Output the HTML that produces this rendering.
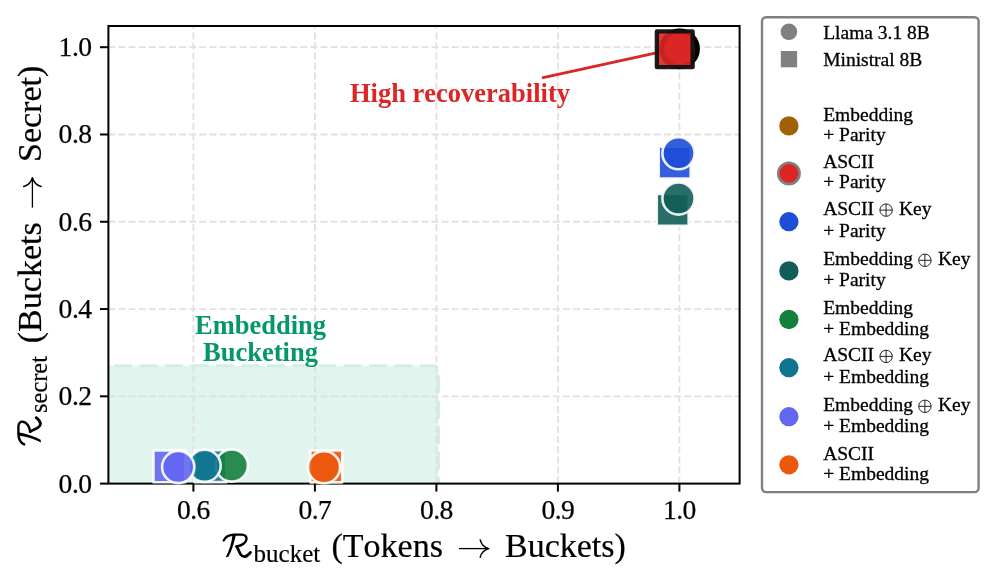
<!DOCTYPE html><html><head><meta charset="utf-8"><style>html,body{margin:0;padding:0;background:#fff;width:996px;height:583px;overflow:hidden;}svg{display:block;will-change:transform;font-family:"Liberation Serif",serif;font-kerning:none;}</style></head><body><svg width="996" height="583" viewBox="0 0 996 583">
<defs><clipPath id="ax"><rect x="108.4" y="26.0" width="631.2" height="457.6"/></clipPath></defs>
<rect width="996" height="583" fill="#fff"/>
<g clip-path="url(#ax)">
<rect x="60" y="365.8" width="378.5" height="160" rx="5" ry="5" fill="#E0F5EE" stroke="#D3EEE4" stroke-width="3" stroke-dasharray="18 7.5" stroke-dashoffset="2"/>
</g>
<g stroke="#dedede" stroke-width="1.8" stroke-dasharray="7.0 3.1" opacity="0.9"><line x1="193.40" y1="483.6" x2="193.40" y2="26.0"/><line x1="314.90" y1="483.6" x2="314.90" y2="26.0"/><line x1="436.40" y1="483.6" x2="436.40" y2="26.0"/><line x1="557.90" y1="483.6" x2="557.90" y2="26.0"/><line x1="679.40" y1="483.6" x2="679.40" y2="26.0"/><line x1="108.4" y1="396.32" x2="739.6" y2="396.32"/><line x1="108.4" y1="309.04" x2="739.6" y2="309.04"/><line x1="108.4" y1="221.76" x2="739.6" y2="221.76"/><line x1="108.4" y1="134.48" x2="739.6" y2="134.48"/><line x1="108.4" y1="47.20" x2="739.6" y2="47.20"/></g>
<text x="460" y="101.6" text-anchor="middle" font-family="Liberation Serif" font-weight="bold" font-size="26.5" fill="#DC2626">High recoverability</text>
<line x1="543.2" y1="77.7" x2="662" y2="51.6" stroke="#DC2626" stroke-width="2.9" stroke-linecap="round"/>
<text text-anchor="middle" font-family="Liberation Serif" font-weight="bold" font-size="26.5" fill="#059669"><tspan x="260.5" y="333.9">Embedding</tspan><tspan x="260.5" y="361.2">Bucketing</tspan></text>
<rect x="108.4" y="26.0" width="631.2" height="457.6" fill="none" stroke="#000" stroke-width="2"/>
<g><rect x="153.45" y="450.35" width="31.9" height="31.9" fill="#6366F1" fill-opacity="0.9" stroke="#fff" stroke-opacity="0.9" stroke-width="2.6" stroke-linejoin="round"/><rect x="194.55" y="450.25" width="31.9" height="31.9" fill="#0E7490" fill-opacity="0.9" stroke="#fff" stroke-opacity="0.9" stroke-width="2.6" stroke-linejoin="round"/><rect x="310.35" y="450.45" width="31.9" height="31.9" fill="#EA580C" fill-opacity="0.9" stroke="#fff" stroke-opacity="0.9" stroke-width="2.6" stroke-linejoin="round"/><rect x="658.75" y="146.75" width="31.9" height="31.9" fill="#1D4ED8" fill-opacity="0.9" stroke="#fff" stroke-opacity="0.9" stroke-width="2.6" stroke-linejoin="round"/><rect x="656.75" y="193.85" width="31.9" height="31.9" fill="#115E59" fill-opacity="0.9" stroke="#fff" stroke-opacity="0.9" stroke-width="2.6" stroke-linejoin="round"/><circle cx="678.50" cy="153.20" r="16.1" fill="#1D4ED8" fill-opacity="0.9" stroke="#fff" stroke-opacity="0.9" stroke-width="2.6"/><circle cx="678.50" cy="198.50" r="16.1" fill="#115E59" fill-opacity="0.9" stroke="#fff" stroke-opacity="0.9" stroke-width="2.6"/><circle cx="231.80" cy="465.50" r="16.1" fill="#15803D" fill-opacity="0.9" stroke="#fff" stroke-opacity="0.9" stroke-width="2.6"/><circle cx="204.60" cy="465.80" r="16.1" fill="#0E7490" fill-opacity="0.9" stroke="#fff" stroke-opacity="0.9" stroke-width="2.6"/><circle cx="178.20" cy="467.00" r="16.1" fill="#6366F1" fill-opacity="0.9" stroke="#fff" stroke-opacity="0.9" stroke-width="2.6"/><circle cx="324.00" cy="467.20" r="16.1" fill="#EA580C" fill-opacity="0.9" stroke="#fff" stroke-opacity="0.9" stroke-width="2.6"/><circle cx="679.60" cy="48.90" r="17.8" fill="#DC2626" fill-opacity="1" stroke="#000" stroke-opacity="1" stroke-width="5.0"/><rect x="656.85" y="31.40" width="35.8" height="35.8" fill="#DC2626" fill-opacity="0.9" stroke="#111" stroke-opacity="0.95" stroke-width="4.3" stroke-linejoin="round"/></g>
<g stroke="#000" stroke-width="2"><line x1="193.40" y1="483.6" x2="193.40" y2="491.6"/><line x1="314.90" y1="483.6" x2="314.90" y2="491.6"/><line x1="436.40" y1="483.6" x2="436.40" y2="491.6"/><line x1="557.90" y1="483.6" x2="557.90" y2="491.6"/><line x1="679.40" y1="483.6" x2="679.40" y2="491.6"/><line x1="100.0" y1="483.60" x2="108.4" y2="483.60"/><line x1="100.0" y1="396.32" x2="108.4" y2="396.32"/><line x1="100.0" y1="309.04" x2="108.4" y2="309.04"/><line x1="100.0" y1="221.76" x2="108.4" y2="221.76"/><line x1="100.0" y1="134.48" x2="108.4" y2="134.48"/><line x1="100.0" y1="47.20" x2="108.4" y2="47.20"/></g>
<g font-family="Liberation Serif" font-size="27.6" fill="#000" letter-spacing="-0.5" stroke="#000" stroke-width="0.25"><text x="193.40" y="519.4" text-anchor="middle">0.6</text><text x="314.90" y="519.4" text-anchor="middle">0.7</text><text x="436.40" y="519.4" text-anchor="middle">0.8</text><text x="557.90" y="519.4" text-anchor="middle">0.9</text><text x="679.40" y="519.4" text-anchor="middle">1.0</text><text x="91.6" y="492.50" text-anchor="end">0.0</text><text x="91.6" y="405.22" text-anchor="end">0.2</text><text x="91.6" y="317.94" text-anchor="end">0.4</text><text x="91.6" y="230.66" text-anchor="end">0.6</text><text x="91.6" y="143.38" text-anchor="end">0.8</text><text x="91.6" y="56.10" text-anchor="end">1.0</text></g>
<g transform="translate(223.5,557.4)"><path d="M0.3,-17.0 C1.5,-20 5,-22.6 10.8,-22.8 L18,-22.8 C21.5,-22.8 23.3,-20.8 23.0,-18.3 C22.6,-14.9 18.8,-11.6 13.1,-11.0" fill="none" stroke="#000" stroke-width="2.4" stroke-linecap="round"/><path d="M9.0,-22.6 C8.3,-15 6,-7 2.2,-0.2 L4.9,-0.6 C8.5,-7 10.8,-15 12.4,-23.0 Z" fill="#000"/><path d="M13.1,-11.0 C14.8,-8.5 15.5,-5.5 17,-3.2 C18.3,-1.4 19.5,-0.6 21,-0.7 C23.3,-0.9 25.3,-2.8 27.0,-5.0" fill="none" stroke="#000" stroke-width="2.8" stroke-linecap="round"/></g>
<text font-family="Liberation Serif" fill="#000" stroke="#000" stroke-width="0.2" font-size="34"><tspan x="253.6" y="562.1" font-size="25">bucket</tspan><tspan x="331.5" y="557.4">(Tokens</tspan><tspan x="505.0" y="557.4">Buckets)</tspan></text>
<g transform="translate(459,548.6)"><path d="M0,0 H29.4" stroke="#000" stroke-width="1.3" fill="none"/><path d="M21.2,-8.7 C22.2,-4.5 25.5,-1.2 29.8,0 C25.5,1.2 22.2,4.5 21.2,8.7" stroke="#000" stroke-width="1.5" fill="none" stroke-linecap="round" stroke-linejoin="round"/></g>
<g transform="translate(41.2,444.7) rotate(-90)"><g transform="translate(0,0)"><path d="M0.3,-17.0 C1.5,-20 5,-22.6 10.8,-22.8 L18,-22.8 C21.5,-22.8 23.3,-20.8 23.0,-18.3 C22.6,-14.9 18.8,-11.6 13.1,-11.0" fill="none" stroke="#000" stroke-width="2.4" stroke-linecap="round"/><path d="M9.0,-22.6 C8.3,-15 6,-7 2.2,-0.2 L4.9,-0.6 C8.5,-7 10.8,-15 12.4,-23.0 Z" fill="#000"/><path d="M13.1,-11.0 C14.8,-8.5 15.5,-5.5 17,-3.2 C18.3,-1.4 19.5,-0.6 21,-0.7 C23.3,-0.9 25.3,-2.8 27.0,-5.0" fill="none" stroke="#000" stroke-width="2.8" stroke-linecap="round"/></g><text font-family="Liberation Serif" fill="#000" stroke="#000" stroke-width="0.2" font-size="34"><tspan x="31.8" y="5.6000000000000005" font-size="24.4">secret</tspan><tspan x="101.5" y="0">(Buckets</tspan><tspan x="282.7" y="0">Secret)</tspan></text><g transform="translate(237.1,-8.8)"><path d="M0,0 H29.4" stroke="#000" stroke-width="1.3" fill="none"/><path d="M21.2,-8.7 C22.2,-4.5 25.5,-1.2 29.8,0 C25.5,1.2 22.2,4.5 21.2,8.7" stroke="#000" stroke-width="1.5" fill="none" stroke-linecap="round" stroke-linejoin="round"/></g></g>
<rect x="762.0" y="17.3" width="216.6" height="474.8" rx="4" ry="4" fill="#fff" fill-opacity="0.8" stroke="#808080" stroke-width="2.4"/>
<circle cx="788.9" cy="31.8" r="8.3" fill="#808080"/><rect x="780.8" y="51.0" width="16.3" height="16.3" fill="#808080"/><circle cx="788.9" cy="125.9" r="9.65" fill="#A16207"/><circle cx="788.9" cy="173.4" r="10.7" fill="#DC2626" stroke="#808080" stroke-width="2.6"/><circle cx="788.9" cy="221.7" r="9.65" fill="#1D4ED8"/><circle cx="788.9" cy="270.9" r="9.65" fill="#115E59"/><circle cx="788.9" cy="319.5" r="9.65" fill="#15803D"/><circle cx="788.9" cy="367.7" r="9.65" fill="#0E7490"/><circle cx="788.9" cy="416.7" r="9.65" fill="#6366F1"/><circle cx="788.9" cy="464.8" r="9.65" fill="#EA580C"/>
<text font-family="Liberation Serif" font-size="19.5" fill="#000" stroke="#000" stroke-width="0.3"><tspan x="823.2" y="38.7">Llama 3.1 8B</tspan><tspan x="823.2" y="65.8">Ministral 8B</tspan><tspan x="823.2" y="120.6">Embedding</tspan><tspan x="823.2" y="140.7">+ Parity</tspan><tspan x="823.2" y="167.7">ASCII</tspan><tspan x="823.2" y="188.3">+ Parity</tspan><tspan x="823.2" y="214.7">ASCII</tspan><tspan x="898.9" y="214.7">Key</tspan><tspan x="823.2" y="237.1">+ Parity</tspan><tspan x="823.2" y="264.9">Embedding</tspan><tspan x="938.0" y="264.9">Key</tspan><tspan x="823.2" y="286.3">+ Parity</tspan><tspan x="823.2" y="313.9">Embedding</tspan><tspan x="823.2" y="334.6">+ Embedding</tspan><tspan x="823.2" y="361.0">ASCII</tspan><tspan x="898.9" y="361.0">Key</tspan><tspan x="823.2" y="383.3">+ Embedding</tspan><tspan x="823.2" y="410.9">Embedding</tspan><tspan x="938.0" y="410.9">Key</tspan><tspan x="823.2" y="432.3">+ Embedding</tspan><tspan x="823.2" y="459.5">ASCII</tspan><tspan x="823.2" y="479.8">+ Embedding</tspan></text>
<g fill="none" stroke="#222" stroke-width="1.0"><circle cx="886.1" cy="210.1" r="6.2"/><path d="M879.9,210.1 H892.3 M886.1,203.9 V216.3"/><circle cx="924.9" cy="260.3" r="6.2"/><path d="M918.7,260.3 H931.1 M924.9,254.1 V266.5"/><circle cx="886.1" cy="356.4" r="6.2"/><path d="M879.9,356.4 H892.3 M886.1,350.2 V362.6"/><circle cx="924.9" cy="406.3" r="6.2"/><path d="M918.7,406.3 H931.1 M924.9,400.1 V412.5"/></g>
</svg></body></html>
